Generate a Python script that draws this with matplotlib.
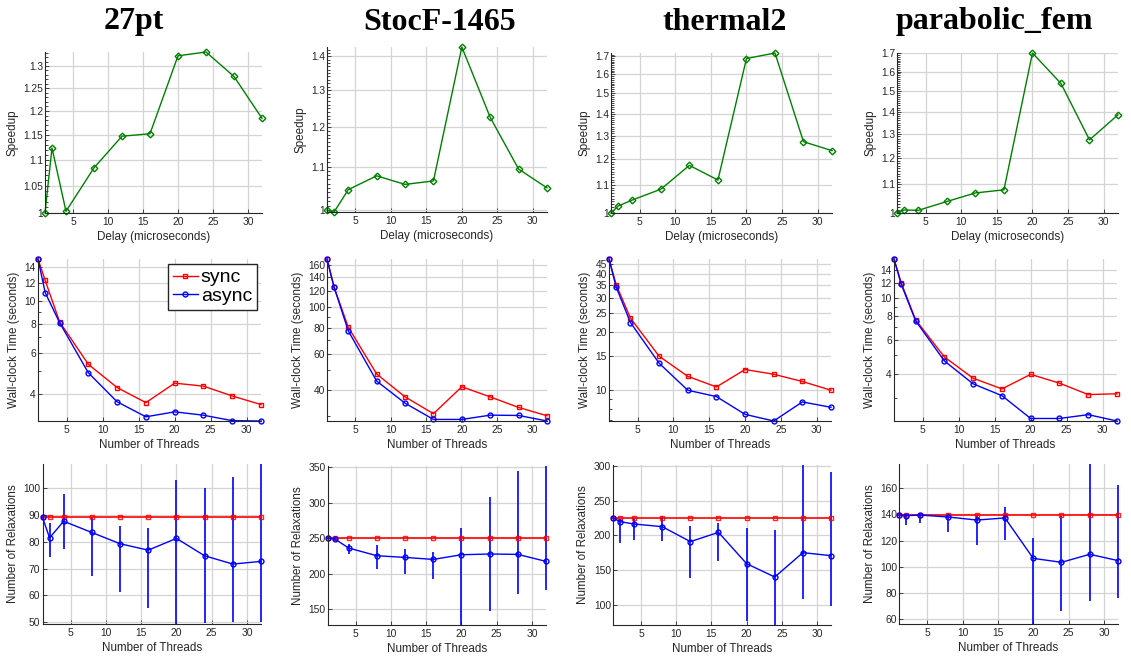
import numpy as np
import matplotlib
matplotlib.use("Agg")
import matplotlib.pyplot as plt
from matplotlib.ticker import FixedLocator, FuncFormatter, NullFormatter, MultipleLocator

# ---------------- data ----------------
matrices = ["27pt", "StocF-1465", "thermal2", "parabolic_fem"]
delay = [1, 2, 4, 8, 12, 16, 20, 24, 28, 32]
threads = [1, 2, 4, 8, 12, 16, 20, 24, 28, 32]

speedup_27pt = [1.000, 1.123, 1.003, 1.084, 1.147, 1.152, 1.324, 1.333, 1.276, 1.184]
speedup_stocf = [1.000, 0.996, 1.046, 1.078, 1.058, 1.066, 1.429, 1.225, 1.094, 1.050]
speedup_thermal2 = [1.000, 1.024, 1.045, 1.084, 1.175, 1.118, 1.687, 1.719, 1.273, 1.235]
speedup_parabolic = [1.000, 1.010, 1.009, 1.039, 1.069, 1.080, 1.702, 1.538, 1.275, 1.386]

time_sync_27pt = [15.2, 12.3, 8.16, 5.36, 4.26, 3.67, 4.45, 4.32, 3.92, 3.60]
time_async_27pt = [15.2, 10.9, 8.10, 4.93, 3.70, 3.19, 3.35, 3.24, 3.07, 3.06]
time_sync_stocf = [171, 125, 80.3, 47.8, 37.1, 30.8, 41.5, 37.1, 33.0, 30.1]
time_async_stocf = [171, 125, 77.1, 44.2, 34.6, 28.9, 28.9, 30.3, 30.2, 28.4]
time_sync_thermal2 = [47.8, 35.2, 23.6, 15.0, 11.8, 10.4, 12.8, 12.1, 11.1, 10.0]
time_async_thermal2 = [47.8, 34.2, 22.4, 13.8, 10.0, 9.27, 7.50, 6.93, 8.70, 8.16]
time_sync_parabolic = [16.0, 12.0, 7.68, 4.90, 3.79, 3.33, 3.97, 3.57, 3.11, 3.14]
time_async_parabolic = [16.0, 11.8, 7.59, 4.67, 3.54, 3.07, 2.33, 2.33, 2.44, 2.26]

relax_sync_27pt = [89.2, 89.2, 89.2, 89.2, 89.2, 89.2, 89.2, 89.2, 89.2, 89.2]
relax_async_27pt = [89.2, 81.5, 87.7, 83.5, 79.3, 76.9, 81.3, 74.8, 71.7, 72.7]
relax_lo_27pt = [89.2, 74.2, 77.2, 67.1, 61.1, 55.1, 49.3, 49.5, 50.2, 50.2]
relax_hi_27pt = [89.2, 87.0, 98.0, 89.2, 86.0, 85.0, 103.1, 100.0, 104.1, 109.1]

relax_sync_stocf = [250, 250, 250, 250, 250, 250, 250, 250, 250, 250]
relax_async_stocf = [250, 249.5, 236.4, 225.6, 223.2, 220.4, 227.0, 228.0, 227.5, 217.6]
relax_lo_stocf = [250, 246.2, 227.5, 207.3, 199.3, 193.2, 128.0, 147.7, 172.0, 178.0]
relax_hi_stocf = [250, 253.8, 241.5, 240.6, 235.0, 231.2, 265.0, 307.7, 345.3, 352.0]

relax_sync_thermal2 = [225, 225, 225, 225, 225, 225, 225, 225, 225, 225]
relax_async_thermal2 = [225, 219.7, 216.3, 212.5, 190.9, 204.3, 159.1, 139.9, 175.0, 170.7]
relax_lo_thermal2 = [225, 188.5, 193.8, 191.8, 138.0, 163.0, 77.0, 70.7, 108.2, 98.0]
relax_hi_thermal2 = [225, 223.6, 224.5, 227.9, 213.5, 218.3, 210.0, 207.2, 301.4, 291.8]

relax_sync_parabolic = [139.2, 139.2, 139.2, 139.2, 139.2, 139.2, 139.2, 139.2, 139.2, 139.2]
relax_async_parabolic = [139.2, 138.9, 139.4, 137.9, 135.6, 137.2, 106.4, 103.4, 109.5, 104.7]
relax_lo_parabolic = [139.2, 131.6, 133.4, 126.2, 116.3, 120.2, 56.4, 66.3, 73.7, 76.2]
relax_hi_parabolic = [139.2, 139.2, 140.2, 141.0, 139.7, 145.3, 122.0, 138.9, 178.3, 162.5]

speedup_ticks = [
    [1, 1.05, 1.1, 1.15, 1.2, 1.25, 1.3],
    [1, 1.1, 1.2, 1.3, 1.4],
    [1, 1.1, 1.2, 1.3, 1.4, 1.5, 1.6, 1.7],
    [1, 1.1, 1.2, 1.3, 1.4, 1.5, 1.6, 1.7],
]
time_ticks = [
    [4, 6, 8, 10, 12, 14],
    [40, 60, 80, 100, 120, 140, 160],
    [10, 15, 20, 25, 30, 35, 40, 45],
    [4, 6, 8, 10, 12, 14],
]
relax_ticks = [
    [50, 60, 70, 80, 90, 100],
    [150, 200, 250, 300, 350],
    [100, 150, 200, 250, 300],
    [60, 80, 100, 120, 140, 160],
]

speedups = [speedup_27pt, speedup_stocf, speedup_thermal2, speedup_parabolic]
t_sync = [time_sync_27pt, time_sync_stocf, time_sync_thermal2, time_sync_parabolic]
t_async = [time_async_27pt, time_async_stocf, time_async_thermal2, time_async_parabolic]
r_sync = [relax_sync_27pt, relax_sync_stocf, relax_sync_thermal2, relax_sync_parabolic]
r_async = [relax_async_27pt, relax_async_stocf, relax_async_thermal2, relax_async_parabolic]
r_lo = [relax_lo_27pt, relax_lo_stocf, relax_lo_thermal2, relax_lo_parabolic]
r_hi = [relax_hi_27pt, relax_hi_stocf, relax_hi_thermal2, relax_hi_parabolic]

# ---------------- layout (pixel boxes: left, top, right, bottom) ----------------
W, H = 1131, 659
boxes_top = [(45, 52, 262, 213), (327, 47, 547, 212), (611, 53, 832, 213), (897, 53, 1118, 213)]
boxes_mid = [(38, 259, 261, 421), (327, 259, 547, 421), (609, 259, 831, 421), (894, 259, 1117, 421)]
boxes_bot = [(42.5, 464, 261, 624), (327.5, 466, 546, 625), (613, 465, 831, 625), (899, 464, 1118, 624)]
title_x = [134, 440, 725, 994]

plt.rcParams["font.family"] = ["Liberation Sans", "DejaVu Sans"]
TXT = "#262626"
GREEN = "#008000"
RED = "#ff0000"
BLUE = "#0000ff"

fig = plt.figure(figsize=(W / 100, H / 100), dpi=100)


def make_axes(box):
    l, t, r, b = box
    ax = fig.add_axes([l / W, 1 - b / H, (r - l) / W, (b - t) / H])
    for s in ("top", "right"):
        ax.spines[s].set_visible(False)
    for s in ("left", "bottom"):
        ax.spines[s].set_color(TXT)
        ax.spines[s].set_linewidth(0.8)
    ax.grid(True, which="major", color="#d4d4d4", linewidth=0.9)
    ax.set_axisbelow(True)
    ax.tick_params(which="both", direction="in", colors=TXT, labelsize=7.4, width=0.6)
    ax.tick_params(which="major", length=3)
    ax.tick_params(which="minor", length=1.8)
    ax.tick_params(axis="x", pad=3)
    ax.tick_params(axis="y", pad=1.5)
    ax.set_xlim(1, 32)
    ax.xaxis.set_major_locator(FixedLocator([5, 10, 15, 20, 25, 30]))
    ax.xaxis.set_minor_locator(FixedLocator([]))
    return ax


fmt = FuncFormatter(lambda v, p: "%g" % v)

for i in range(4):
    # speedup vs delay
    ax = make_axes(boxes_top[i])
    ax.plot(delay, speedups[i], color=GREEN, lw=1.0, marker="D", ms=3.4, mfc="none",
            mew=1.0, clip_on=False)
    ax.set_yscale("log")
    ax.set_ylim(min(speedups[i]), max(speedups[i]))
    ax.yaxis.set_major_locator(FixedLocator(speedup_ticks[i]))
    ax.yaxis.set_major_formatter(fmt)
    ax.yaxis.set_minor_locator(MultipleLocator(0.01))
    ax.yaxis.set_minor_formatter(NullFormatter())
    ax.set_xlabel("Delay (microseconds)", fontsize=8.4, color=TXT, labelpad=3)
    ax.set_ylabel("Speedup", fontsize=8.4, color=TXT, labelpad=3)

    # wall-clock time vs threads
    ax = make_axes(boxes_mid[i])
    ls, = ax.plot(threads, t_sync[i], color=RED, lw=1.0, marker="s", ms=3.5, mfc="none",
                  mew=1.0, clip_on=False, label="sync")
    la, = ax.plot(threads, t_async[i], color=BLUE, lw=1.0, marker="o", ms=3.5, mfc="none",
                  mew=1.0, clip_on=False, label="async")
    ax.set_yscale("log")
    lo = min(min(t_sync[i]), min(t_async[i]))
    hi = max(max(t_sync[i]), max(t_async[i]))
    ax.set_ylim(lo, hi)
    ax.yaxis.set_major_locator(FixedLocator(time_ticks[i]))
    ax.yaxis.set_major_formatter(fmt)
    ax.yaxis.set_minor_formatter(NullFormatter())
    ax.set_xlabel("Number of Threads", fontsize=8.4, color=TXT, labelpad=3)
    ax.set_ylabel("Wall-clock Time (seconds)", fontsize=8.4, color=TXT, labelpad=3)
    if i == 0:
        leg = ax.legend(handles=[ls, la], loc="upper right",
                        bbox_to_anchor=(257 / W, 1 - 264 / H),
                        bbox_transform=fig.transFigure, fontsize=14, frameon=True,
                        fancybox=False, handlelength=1.3, handletextpad=0.15,
                        borderpad=0.25, labelspacing=0.05, borderaxespad=0.0)
        leg.get_frame().set_edgecolor("#262626")
        leg.get_frame().set_linewidth(1.0)
        leg.get_frame().set_alpha(1.0)

    # relaxations vs threads
    ax = make_axes(boxes_bot[i])
    avg = np.array(r_async[i])
    yerr = [avg - np.array(r_lo[i]), np.array(r_hi[i]) - avg]
    eb = ax.errorbar(threads, r_async[i], yerr=yerr, fmt="none", ecolor=BLUE,
                     elinewidth=1.2, capsize=0)
    for coll in eb.lines[2]:
        coll.set_clip_on(False)
    ax.plot(threads, r_sync[i], color=RED, lw=1.4, marker="s", ms=3.5, mfc="none",
            mew=1.0, clip_on=False, alpha=0.85)
    ax.plot(threads, r_async[i], color=BLUE, lw=1.0, marker="o", ms=3.5, mfc="none",
            mew=1.0, clip_on=False)
    ax.set_ylim(min(r_lo[i]), max(r_hi[i]))
    ax.yaxis.set_major_locator(FixedLocator(relax_ticks[i]))
    ax.yaxis.set_major_formatter(fmt)
    ax.set_xlabel("Number of Threads", fontsize=8.4, color=TXT, labelpad=3)
    ax.set_ylabel("Number of Relaxations", fontsize=8.4, color=TXT, labelpad=3)

    fig.text(title_x[i] / W, 1 - 22 / H, matrices[i], ha="center", va="center",
             fontsize=23, fontweight="bold", family="Liberation Serif", color="black")

fig.savefig("out.png", dpi=100)
